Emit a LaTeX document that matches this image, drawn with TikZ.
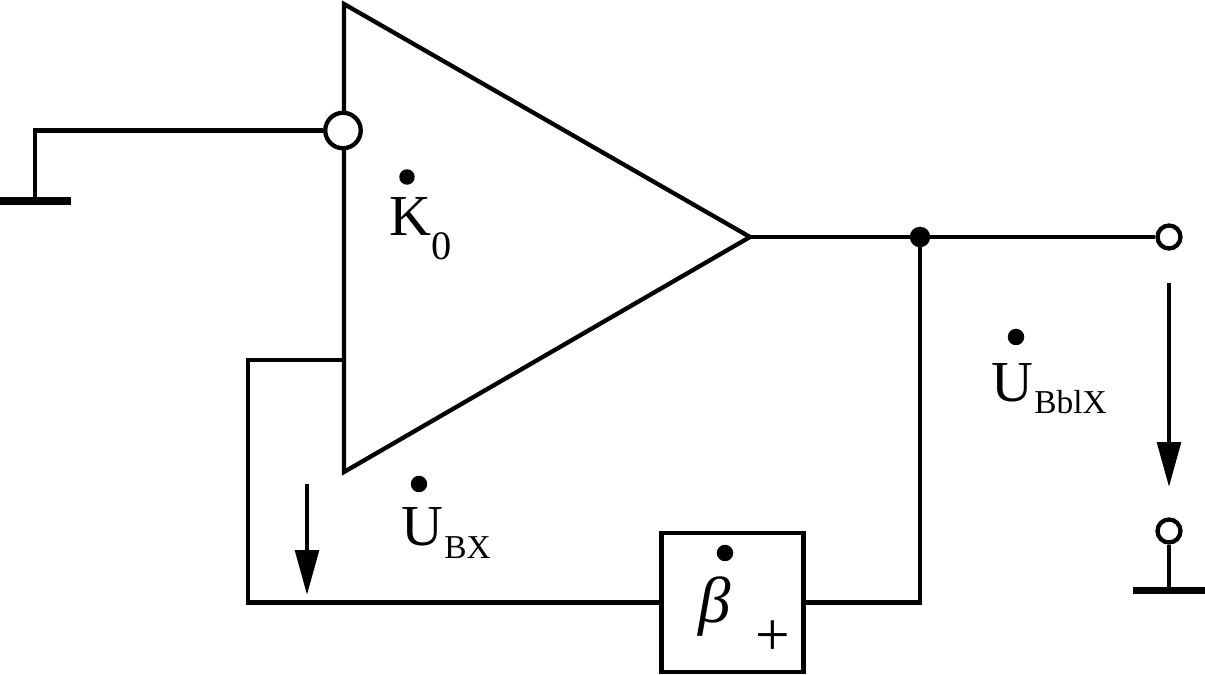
\documentclass[tikz,border=0pt]{standalone}
\usepackage{fontspec}
\setmainfont{Liberation Serif}
\usetikzlibrary{arrows.meta}
\tikzset{
  wire/.style={line width=2.45pt},
  gnd/.style={line width=4.4pt},
  terminal/.style={circle,draw,fill=white,line width=2.45pt,inner sep=0pt,minimum size=0.46cm},
  bigterminal/.style={terminal,minimum size=0.71cm},
  dotmark/.style={circle,fill=black,inner sep=0pt,minimum size=0.33cm},
  maintext/.style={anchor=base west,inner sep=0pt,font=\fontsize{33}{36}\selectfont},
  subtext/.style={anchor=base west,inner sep=0pt,font=\fontsize{19}{24}\selectfont},
  voltarrow/.style={line width=2.45pt,-{Triangle[length=0.9cm,width=0.47cm]}}
}
\begin{document}
\begin{tikzpicture}[x=0.02cm,y=-0.02cm]
\useasboundingbox (0,0) rectangle (1205,675);
% amplifier
\coordinate (amptop) at (344,4);
\coordinate (ampout) at (750,237);
\coordinate (ampbot) at (344,472);
\coordinate (ampfb) at (344,360);
\draw[wire,line join=miter] (amptop) -- (ampout) -- (ampbot) -- cycle;
\node[bigterminal] (input) at (343,130.5) {};
\coordinate (gndleft) at (35,130.5);
\coordinate (gndL) at (0,201);
\coordinate (gndR) at (71,201);
\coordinate (gndtop) at (35,201);
\draw[wire] (input) -- (gndleft) -- (gndtop);
\draw[gnd] (gndL) -- (gndR);
% output side
\node[dotmark,minimum size=0.41cm] (junction) at (920,237) {};
\node[terminal] (outA) at (1169,237) {};
\node[terminal] (outB) at (1169,531) {};
\coordinate (gndB) at (1169,590);
\coordinate (gndBL) at (1133,590.5);
\coordinate (gndBR) at (1205,590.5);
\draw[wire] (ampout) -- (junction.center) -- (outA);
\draw[wire] (outB) -- (gndB);
\draw[gnd] (gndBL) -- (gndBR);
% feedback
\node[draw,line width=2.45pt,minimum width=2.84cm,minimum height=2.78cm,inner sep=0pt] (beta) at (732.5,602.5) {};
\coordinate (fbcorner) at (248,360);
\coordinate (fbbottom) at (248,602.5);
\coordinate (fbright) at (920,602.5);
\draw[wire] (ampfb) -- (fbcorner) -- (fbbottom) -- (beta.west);
\draw[wire] (beta.east) -- (fbright) -- (junction.center);
% voltage arrows
\coordinate (arrAs) at (307,484);
\coordinate (arrAe) at (307,595);
\coordinate (arrBs) at (1169,283);
\coordinate (arrBe) at (1169,487);
\draw[voltarrow] (arrAs) -- (arrAe);
\draw[voltarrow] (arrBs) -- (arrBe);
% labels
\node[dotmark,minimum size=0.31cm] (dotK) at (407,177) {};
\node[maintext] (labK) at (389,236) {K};
\node[subtext,font=\fontsize{23}{26}\selectfont] (labKsub) at (431,260) {0};
\node[dotmark] (dotUin) at (419,484) {};
\node[maintext] (labUin) at (401,546) {U};
\node[subtext] (labUinsub) at (444,559) {BX};
\node[dotmark] (dotUout) at (1016,337) {};
\node[maintext] (labUout) at (991,402) {U};
\node[subtext] (labUoutsub) at (1034,414) {BblX};
\node[dotmark] (dotbeta) at (725,553) {};
\node[maintext,font=\fontsize{37}{40}\selectfont\itshape] (labbeta) at (698,623) {β};
\node[maintext,font=\fontsize{35}{40}\selectfont] (labplus) at (755,656) {+};
\end{tikzpicture}
\end{document}
